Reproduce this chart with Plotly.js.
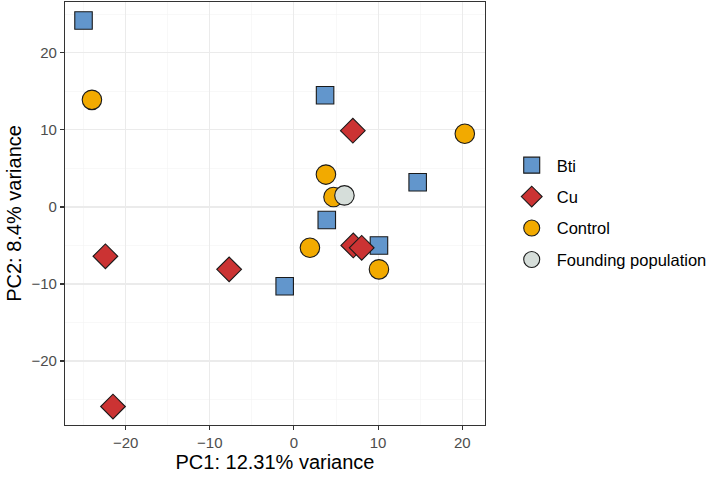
<!DOCTYPE html>
<html>
<head>
<meta charset="utf-8">
<script src="https://cdn.plot.ly/plotly-3.0.1.min.js"></script>
<style>html,body{margin:0;padding:0;background:#fff;}#chart{width:709px;height:480px;}</style>
</head>
<body>
<div id="chart"></div>
<script>
// Data
const groups = ["Bti", "Cu", "Control", "Founding population"];

const btiPC1 = [-25.0, 3.7, 14.7, 3.9, 10.1, -1.1];
const btiPC2 = [24.2, 14.5, 3.2, -1.7, -5.0, -10.3];

const cuPC1 = [7.0, -22.4, -7.7, -21.5, 7.05, 8.05];
const cuPC2 = [9.9, -6.4, -8.1, -25.9, -5.0, -5.3];

const controlPC1 = [-24.0, 20.3, 3.8, 4.7, 1.9, 10.1];
const controlPC2 = [13.9, 9.5, 4.2, 1.3, -5.3, -8.1];

const foundingPC1 = [6.0];
const foundingPC2 = [1.5];

const xTitle = "PC1: 12.31% variance";
const yTitle = "PC2: 8.4% variance";

const FONT = "Liberation Sans, Arial, Helvetica, sans-serif";
const outline = {color: "#1a1a1a", width: 1.1};

function trace(name, x, y, symbol, color, size, group) {
  return {
    type: "scatter", mode: "markers", name: name, x: x, y: y,
    legendgroup: group,
    marker: {symbol: symbol, color: color, size: size, line: outline},
    hoverinfo: "x+y+name"
  };
}

const data = [
  trace(groups[0], btiPC1, btiPC2, "square", "#6296CC", 17.5, "g1"),
  trace(groups[1], cuPC1, cuPC2, "diamond", "#CB3333", 19, "g2"),
  trace(groups[2], controlPC1, controlPC2, "circle", "#F2AA00", 19.5, "g3"),
  trace(groups[3], foundingPC1, foundingPC2, "circle", "#D6DEDA", 19.5, "g4")
];

const axisCommon = {
  automargin: false,
  showline: true, mirror: true, linecolor: "#333333", linewidth: 1.1,
  showgrid: true, gridcolor: "#EBEBEB", gridwidth: 1.1,
  zeroline: false,
  ticks: "outside", ticklen: 4, tickwidth: 1.1, tickcolor: "#333333",
  tickfont: {family: FONT, size: 15, color: "#4D4D4D"},
  dtick: 10
};

const layout = {
  width: 709, height: 480,
  margin: {l: 65, r: 224, t: 1.5, b: 55, autoexpand: false},
  paper_bgcolor: "#ffffff", plot_bgcolor: "#ffffff",
  font: {family: FONT, color: "#000"},
  xaxis: Object.assign({}, axisCommon, {
    range: [-27.2, 22.7],
    tick0: 0,
    minor: {showgrid: true, gridcolor: "#F3F3F3", gridwidth: 0.6, dtick: 10, tick0: 5},
    title: {text: xTitle, font: {family: FONT, size: 20, color: "#000"}, standoff: 4}
  }),
  yaxis: Object.assign({}, axisCommon, {
    range: [-28.3, 26.6],
    tick0: 0,
    minor: {showgrid: true, gridcolor: "#F3F3F3", gridwidth: 0.6, dtick: 10, tick0: 5},
    title: {text: yTitle, font: {family: FONT, size: 20, color: "#000"}, standoff: 4}
  }),
  showlegend: true,
  legend: {
    x: 1.0517, xanchor: "left", y: 0.655, yanchor: "top",
    itemwidth: 40,
    font: {family: FONT, size: 16.5, color: "#000"},
    tracegroupgap: 7,
    bgcolor: "rgba(0,0,0,0)"
  }
};

Plotly.newPlot("chart", data, layout, {displayModeBar: false, staticPlot: true});
</script>
</body>
</html>
